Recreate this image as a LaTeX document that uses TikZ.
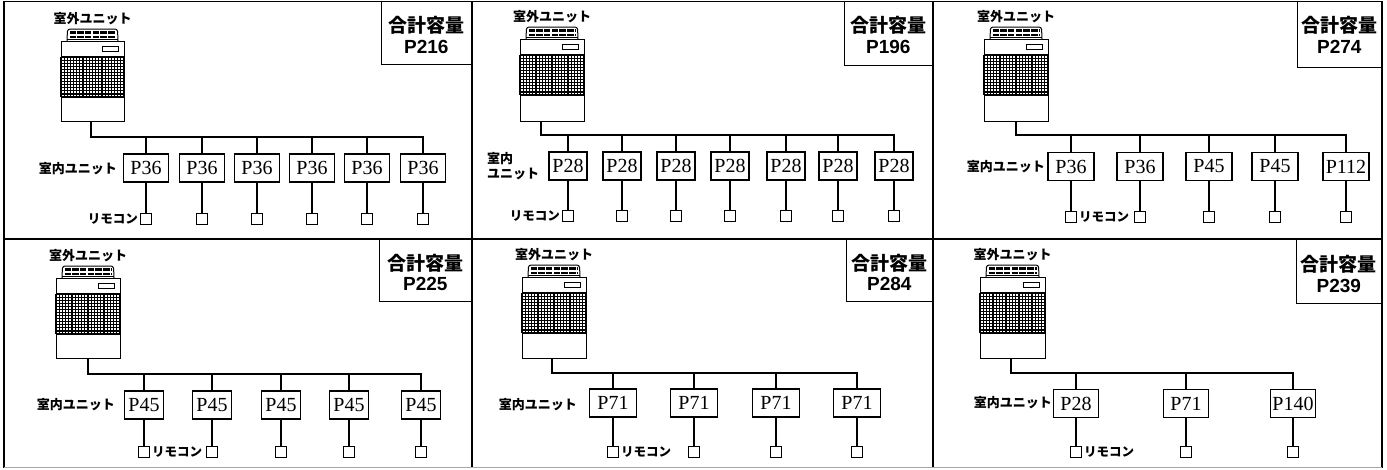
\documentclass[tikz,border=0pt]{standalone}
\usepackage{fontspec}
\setmainfont{Liberation Serif}
\setsansfont{Liberation Sans}
\newfontfamily\jp{Noto Sans CJK JP}
\usetikzlibrary{calc}

\tikzset{
  frameline/.style={line width=1.8pt},
  pipe/.style={line width=1.8pt},
  odubody/.style={draw, line width=1.1pt, rectangle, inner sep=0pt, fill=white},
  grl/.style={line width=1.15pt},
  iu/.style={draw, line width=1.2pt, rectangle, minimum height=28pt, inner sep=1pt,
             font=\fontsize{20}{20}\selectfont},
  rc/.style={draw, line width=1.4pt, rectangle, minimum size=11.5pt, inner sep=0pt},
  lbl/.style={inner sep=0pt, font=\jp\bfseries\fontsize{13}{15}\selectfont},
  rlbl/.style={inner sep=0pt, font=\jp\bfseries\fontsize{12.5}{12.5}\selectfont},
  capbox/.style={draw, line width=1.3pt, rectangle, inner sep=0pt, anchor=north east},
  captitle/.style={inner sep=0pt, font=\jp\bfseries\fontsize{19}{19}\selectfont},
  capval/.style={inner sep=0pt, font=\sffamily\bfseries\fontsize{19}{19}\selectfont},
}

% outdoor unit: name, x, y (top-left of the cabinet), width, height
\newcommand\outdoorunit[5]{%
  \begin{scope}[shift={(#2,#3)}]
    \node[odubody, minimum width=#4pt, minimum height=#5pt, anchor=north west] (#1) at (0,0) {};
    % fan housing on top
    \draw[line width=1pt, rounded corners=2.5pt] (6,0) -- (6.5,-12) -- (#4-6.5,-12) -- (#4-6,0);
    \draw[line width=2.6pt, dash pattern=on 6.5pt off 1.2pt] (8.5,-8.3) -- (#4-8.5,-8.3);
    \draw[line width=2.2pt, dash pattern=on 6.5pt off 1.2pt] (8.5,-4.3) -- (#4-8.5,-4.3);
    \draw[line width=0.8pt] (6,-1.2) -- (#4-6,-1.2);
    % control panel
    \draw[line width=0.9pt] (#4-22,5) rectangle (#4-6,10);
    % air grille
    \foreach \k in {0,...,20} \draw[grl] ({\k*#4/20},16) -- ({\k*#4/20},56);
    \foreach \k in {0,...,13} \draw[grl] (0,{16+\k*40/13}) -- (#4,{16+\k*40/13});
    \node[lbl] (#1l) at (#4/2,-22) {室外ユニット};
  \end{scope}}

\begin{document}
\begin{tikzpicture}[x=1pt, y=-1pt]
\useasboundingbox (0,0) rectangle (1387,469);

% ---------- frame ----------
\draw[frameline] (4,468) -- (4,1.5) -- (1382,1.5) -- (1382,468);
\draw[frameline] (4,239) -- (1382,239);
\draw[frameline] (472,1.5) -- (472,468);
\draw[frameline] (933,1.5) -- (933,468);
\draw[frameline, black!35] (4,467.5) -- (1382,467.5);

% ---------- panel 1 ----------
\outdoorunit{o1}{61}{41}{63}{80}
\coordinate (b1) at (91,137);
\foreach \x/\t [count=\i] in {146/P36,202/P36,257/P36,312/P36,367/P36,423/P36} {
  \node[iu, minimum width=45pt] (u1-\i) at (\x,168) {\t};
  \node[rc] (r1-\i) at (\x,219) {};
  \draw[pipe] (u1-\i) -- (r1-\i);
  \draw[pipe] (u1-\i.north |- b1) -- (u1-\i.north);
}
\draw[pipe] (o1.south -| b1) -- (b1) -- (b1 -| u1-6.north) -- (u1-6.north);
\node[lbl, anchor=east] (il1) at (117,169) {室内ユニット};
\node[rlbl, anchor=east] (rl1) at ([xshift=-1.5pt]r1-1.west) {リモコン};
\node[capbox, minimum width=90pt, minimum height=63pt] (c1) at (472,1) {};
\node[captitle] (c1a) at ([yshift=-24pt]c1.north) {合計容量};
\node[capval] (c1b) at ([yshift=-46pt]c1.north) {P216};

% ---------- panel 2 ----------
\outdoorunit{o2}{520}{39}{64}{82}
\coordinate (b2) at (541,135);
\foreach \x/\t [count=\i] in {568/P28,622/P28,676/P28,730/P28,786/P28,838/P28,894/P28} {
  \node[iu, minimum width=38pt] (u2-\i) at (\x,166) {\t};
  \node[rc] (r2-\i) at (\x,216) {};
  \draw[pipe] (u2-\i) -- (r2-\i);
  \draw[pipe] (u2-\i.north |- b2) -- (u2-\i.north);
}
\draw[pipe] (o2.south -| b2) -- (b2) -- (b2 -| u2-7.north) -- (u2-7.north);
\node[lbl, anchor=west, align=left] (il2) at (487,166) {室内\\ユニット};
\node[rlbl, anchor=east] (rl2) at ([xshift=-1.5pt]r2-1.west) {リモコン};
\node[capbox, minimum width=88pt, minimum height=64pt] (c2) at (933,1) {};
\node[captitle] (c2a) at ([yshift=-24pt]c2.north) {合計容量};
\node[capval] (c2b) at ([yshift=-46pt]c2.north) {P196};

% ---------- panel 3 ----------
\outdoorunit{o3}{984}{39}{64}{82}
\coordinate (b3) at (1016,135);
\foreach \x/\t [count=\i] in {1071/P36,1140/P36,1209/P45,1275/P45,1346/P112} {
  \node[iu, minimum width=46pt] (u3-\i) at (\x,166.5) {\t};
  \node[rc] (r3-\i) at (\x,217) {};
  \draw[pipe] (u3-\i) -- (r3-\i);
  \draw[pipe] (u3-\i.north |- b3) -- (u3-\i.north);
}
\draw[pipe] (o3.south -| b3) -- (b3) -- (b3 -| u3-5.north) -- (u3-5.north);
\node[lbl, anchor=east] (il3) at (1045,167) {室内ユニット};
\node[rlbl, anchor=west] (rl3) at ([xshift=1.5pt]r3-1.east) {リモコン};
\node[capbox, minimum width=84pt, minimum height=66pt] (c3) at (1382,1) {};
\node[captitle] (c3a) at ([yshift=-24pt]c3.north) {合計容量};
\node[capval] (c3b) at ([yshift=-46pt]c3.north) {P274};

% ---------- panel 4 ----------
\outdoorunit{o4}{56}{278}{64}{80}
\coordinate (b4) at (88,374);
\foreach \x/\t [count=\i] in {144/P45,212/P45,281/P45,349/P45,421/P45} {
  \node[iu, minimum width=39pt] (u4-\i) at (\x,405) {\t};
  \node[rc] (r4-\i) at (\x,452) {};
  \draw[pipe] (u4-\i) -- (r4-\i);
  \draw[pipe] (u4-\i.north |- b4) -- (u4-\i.north);
}
\draw[pipe] (o4.south -| b4) -- (b4) -- (b4 -| u4-5.north) -- (u4-5.north);
\node[lbl, anchor=east] (il4) at (115,405) {室内ユニット};
\node[rlbl, anchor=west] (rl4) at ([xshift=1.5pt]r4-1.east) {リモコン};
\node[capbox, minimum width=92pt, minimum height=62pt] (c4) at (472,239) {};
\node[captitle] (c4a) at ([yshift=-24pt]c4.north) {合計容量};
\node[capval] (c4b) at ([yshift=-45pt]c4.north) {P225};

% ---------- panel 5 ----------
\outdoorunit{o5}{522}{277}{64}{81}
\coordinate (b5) at (552,373);
\foreach \x/\t [count=\i] in {613/P71,694/P71,776/P71,857/P71} {
  \node[iu, minimum width=47pt] (u5-\i) at (\x,403) {\t};
  \node[rc] (r5-\i) at (\x,452) {};
  \draw[pipe] (u5-\i) -- (r5-\i);
  \draw[pipe] (u5-\i.north |- b5) -- (u5-\i.north);
}
\draw[pipe] (o5.south -| b5) -- (b5) -- (b5 -| u5-4.north) -- (u5-4.north);
\node[lbl, anchor=east] (il5) at (577,405) {室内ユニット};
\node[rlbl, anchor=west] (rl5) at ([xshift=1.5pt]r5-1.east) {リモコン};
\node[capbox, minimum width=86pt, minimum height=62pt] (c5) at (933,239) {};
\node[captitle] (c5a) at ([yshift=-24pt]c5.north) {合計容量};
\node[capval] (c5b) at ([yshift=-45pt]c5.north) {P284};

% ---------- panel 6 ----------
\outdoorunit{o6}{980}{277}{65}{81}
\coordinate (b6) at (1011,373);
\foreach \x/\t [count=\i] in {1076/P28,1186/P71,1293/P140} {
  \node[iu, minimum width=45pt] (u6-\i) at (\x,403.5) {\t};
  \node[rc] (r6-\i) at (\x,452) {};
  \draw[pipe] (u6-\i) -- (r6-\i);
  \draw[pipe] (u6-\i.north |- b6) -- (u6-\i.north);
}
\draw[pipe] (o6.south -| b6) -- (b6) -- (b6 -| u6-3.north) -- (u6-3.north);
\node[lbl, anchor=east] (il6) at (1052,403) {室内ユニット};
\node[rlbl, anchor=west] (rl6) at ([xshift=1.5pt]r6-1.east) {リモコン};
\node[capbox, minimum width=85pt, minimum height=64pt] (c6) at (1382,239) {};
\node[captitle] (c6a) at ([yshift=-25pt]c6.north) {合計容量};
\node[capval] (c6b) at ([yshift=-47pt]c6.north) {P239};

\end{tikzpicture}
\end{document}
